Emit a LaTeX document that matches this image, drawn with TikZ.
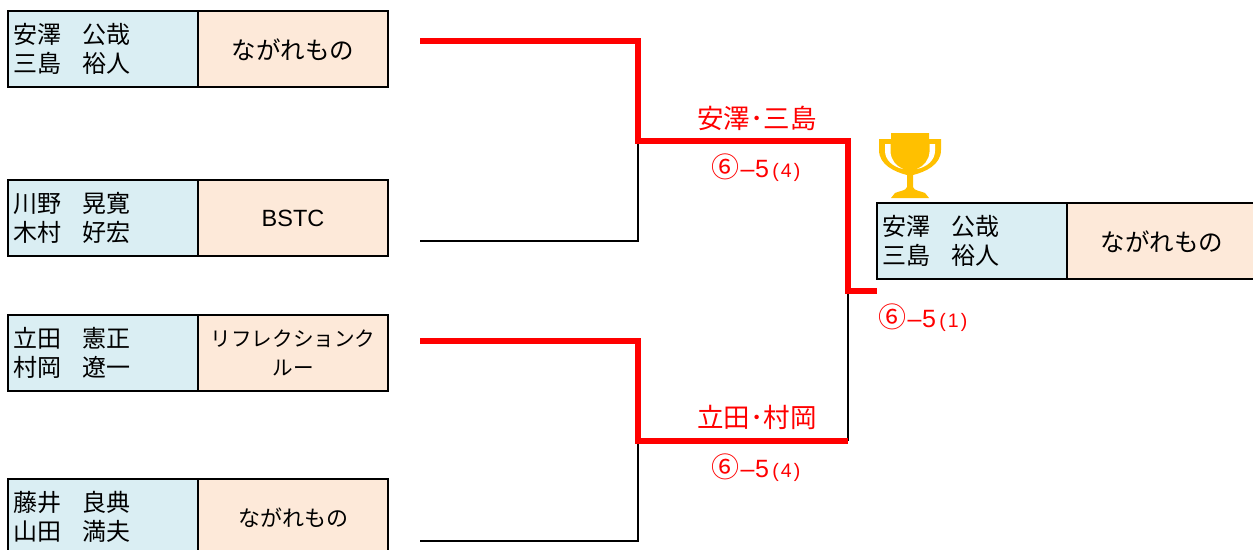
\documentclass[tikz,border=0pt]{standalone}
\usepackage{fontspec}
\usepackage{tikz}
\setmainfont{Noto Sans CJK JP}
\newfontfamily\latinfont{Liberation Sans}
\definecolor{nameblue}{HTML}{DAEEF3}
\definecolor{teamorange}{HTML}{FDE9D9}
\definecolor{cupgold}{HTML}{FFC000}
\def\fs#1{\fontsize{#1}{33}\selectfont}
\def\pair#1#2{#1\hspace{21pt}#2}
\def\score#1{{\fs{28}⑥}\hspace{1pt}{\latinfont\fs{25}–\hspace{0.5pt}5}\hspace{3.5pt}{\latinfont\fs{19.5}(\hspace{2pt}#1\hspace{2pt})}}
\tikzset{
	cell/.style={draw, line width=2pt, minimum height=76, minimum width=190, anchor=north west, inner sep=0pt, execute at begin node={\vspace*{-3.5pt}}},
	namecell/.style={cell, fill=nameblue, text width=180, align=left, font=\fs{24}},
	teamcell/.style={cell, fill=teamorange, text width=180, align=center, font=\fs{24.5}},
	win/.style={red, line width=5.5pt, line cap=butt, line join=miter},
	lose/.style={black, line width=2.6pt},
	redtext/.style={red, inner sep=0pt}
}
\begin{document}
\begin{tikzpicture}[x=1pt, y=-1pt]
	\useasboundingbox (0,0) rectangle (1253,549);
	\node[namecell] (n1) at (7,10) {\pair{安澤}{公哉}\\\pair{三島}{裕人}};
	\node[teamcell] (t1) at (197,10) {ながれもの};
	\node[namecell] (n2) at (7,179) {\pair{川野}{晃寛}\\\pair{木村}{好宏}};
	\node[teamcell, font=\latinfont\fs{23.5}] (t2) at (197,179) {BSTC};
	\node[namecell] (n3) at (7,314) {\pair{立田}{憲正}\\\pair{村岡}{遼一}};
	\node[teamcell, font=\fs{20.6}] (t3) at (197,314) {リフレクションク\\ルー};
	\node[namecell] (n4) at (7,478) {\pair{藤井}{良典}\\\pair{山田}{満夫}};
	\node[teamcell, font=\fs{22}] (t4) at (197,478) {ながれもの};
	\node[namecell] (n5) at (876,202) {\pair{安澤}{公哉}\\\pair{三島}{裕人}};
	\node[teamcell] (t5) at (1066,202) {ながれもの};
	% bracket
	\coordinate (s1) at (420,41);
	\coordinate (s2) at (420,241);
	\coordinate (s3) at (420,341);
	\coordinate (s4) at (420,541);
	\coordinate (j1) at (638,141);
	\coordinate (j2) at (638,441);
	\coordinate (j3) at (848,291);
	\coordinate (e1) at (877,291);
	\draw[lose] (s2) -| (j1);
	\draw[lose] (s4) -| (j2);
	\draw[lose] (j2 -| j3) -- (j3);
	\draw[win] (s1) -| (j1) -| (j3) -- (e1);
	\draw[win] (s3) -| (j2) -- (j2 -| j3);
	% labels
	\node[redtext, font=\fs{26.5}] (w1) at (757,118) {安澤･三島};
	\node[redtext] (r1) at (756,167.5) {\score{4}};
	\node[redtext, font=\fs{26.5}] (w2) at (757,417) {立田･村岡};
	\node[redtext] (r2) at (756,467.5) {\score{4}};
	\node[redtext] (r3) at (923,317.5) {\score{1}};
	% trophy
	\fill[cupgold] (891,133) -- (929,133) -- (929,139) -- (941,139) -- (941,150) .. controls (941,165) and (925,172) .. (913,175)
		-- (913,187) .. controls (914,191) and (921,191) .. (925,193) -- (929,198) -- (891,198) -- (895,193)
		.. controls (899,191) and (906,191) .. (907,187) -- (907,175) .. controls (895,172) and (879,165) .. (879,150) -- (879,139) -- (891,139) -- cycle;
	\fill[white] (885,144) -- (890.5,144) -- (890.5,152) .. controls (891,160) and (896,166) .. (903,169) .. controls (893,167) and (885,160) .. (885,151) -- cycle;
	\fill[white] (935,144) -- (929.5,144) -- (929.5,152) .. controls (929,160) and (924,166) .. (917,169) .. controls (927,167) and (935,160) .. (935,151) -- cycle;
\end{tikzpicture}
\end{document}
